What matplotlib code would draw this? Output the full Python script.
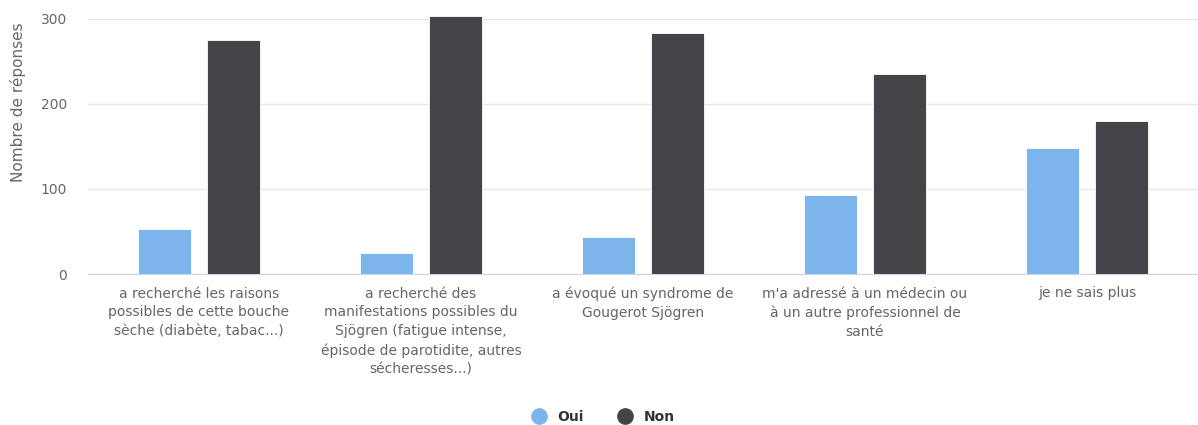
import matplotlib
matplotlib.use("Agg")
import matplotlib.pyplot as plt
from matplotlib.lines import Line2D
import numpy as np

categories = [
    "a recherché les raisons\npossibles de cette bouche\nsèche (diabète, tabac...)",
    "a recherché des\nmanifestations possibles du\nSjögren (fatigue intense,\népisode de parotidite, autres\nsécheresses...)",
    "a évoqué un syndrome de\nGougerot Sjögren",
    "m'a adressé à un médecin ou\nà un autre professionnel de\nsanté",
    "je ne sais plus",
]
oui = [53, 25, 44, 93, 148]
non = [275, 303, 283, 235, 180]
y_ticks = [0, 100, 200, 300]

oui_color = "#7cb5ec"
non_color = "#434348"
text_color = "#666666"

figure = plt.figure(figsize=(11.98, 4.25), dpi=100)
axis = figure.add_axes([88 / 1198, 1 - 274 / 425, 1 - 88 / 1198, 258 / 425])

x = np.arange(len(categories))
width = 0.24
offset = 0.155
axis.bar(x - offset, oui, width, color=oui_color, edgecolor="white", linewidth=0.6, zorder=3)
axis.bar(x + offset, non, width, color=non_color, edgecolor="white", linewidth=0.6, zorder=3)

axis.set_xlim(-0.5, len(categories) - 0.5)
axis.set_ylim(0, 300 * 258 / 255)
axis.set_yticks(y_ticks)
axis.set_yticklabels([str(v) for v in y_ticks], color=text_color, fontsize=10)
axis.tick_params(axis="y", length=0, pad=15)
axis.grid(axis="y", color="#e6e6e6", linewidth=1, zorder=0)

axis.set_xticks(x)
axis.set_xticklabels(categories, color=text_color, fontsize=10, linespacing=1.44, va="top")
axis.tick_params(axis="x", length=0, pad=9)

for side in ["top", "right", "left"]:
    axis.spines[side].set_visible(False)
axis.spines["bottom"].set_color("#ccd6eb")
axis.spines["bottom"].set_zorder(4)

figure.text(18 / 1198, 1 - 102 / 425, "Nombre de réponses", rotation=90,
            ha="center", va="center", color=text_color, fontsize=11)

handles = [
    Line2D([], [], marker="o", linestyle="", markersize=11, color=oui_color),
    Line2D([], [], marker="o", linestyle="", markersize=11, color=non_color),
]
figure.legend(handles, ["Oui", "Non"], loc="center", bbox_to_anchor=(600 / 1198, 1 - 417 / 425),
              ncol=2, frameon=False, handletextpad=0.3, columnspacing=2.0,
              prop={"weight": "bold", "size": 10})
for text in figure.legends[0].get_texts():
    text.set_color("#333333")

plt.savefig("out.png", dpi=100)
